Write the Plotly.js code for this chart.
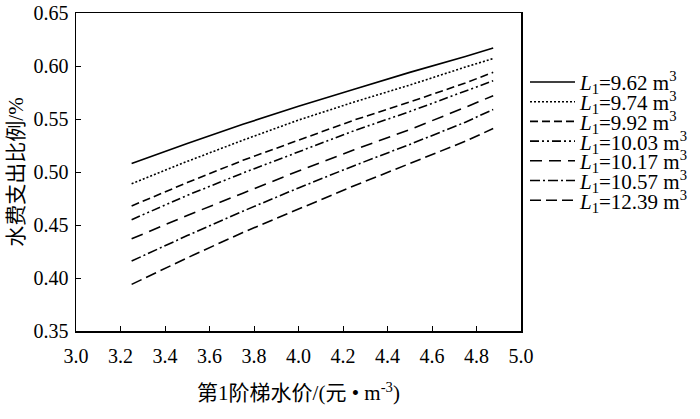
<!DOCTYPE html>
<html>
<head>
<meta charset="utf-8">
<script src="https://cdn.plot.ly/plotly-3.0.1.min.js"></script>
<style>html,body{margin:0;padding:0;background:#fff;}#chart{width:700px;height:419px;}</style>
</head>
<body>
<div id="chart"></div>
<script>
// Price of 1st-tier water (元/m³)
const price = [3.25, 3.5, 3.75, 4.0, 4.25, 4.5, 4.75, 4.875];
// Legend labels (L1 values, m³)
const seriesNames = ["9.62", "9.74", "9.92", "10.03", "10.17", "10.57", "12.39"];
// Water expenditure share (%) for each L1
const s962  = [0.508, 0.527, 0.545, 0.562, 0.578, 0.594, 0.609, 0.617];
const s974  = [0.489, 0.510, 0.530, 0.549, 0.566, 0.582, 0.599, 0.607];
const s992  = [0.468, 0.490, 0.511, 0.530, 0.549, 0.566, 0.584, 0.594];
const s1003 = [0.455, 0.478, 0.499, 0.519, 0.539, 0.557, 0.576, 0.586];
const s1017 = [0.437, 0.459, 0.480, 0.501, 0.521, 0.540, 0.561, 0.572];
const s1057 = [0.416, 0.440, 0.463, 0.485, 0.506, 0.526, 0.547, 0.559];
const s1239 = [0.394, 0.419, 0.443, 0.465, 0.487, 0.508, 0.529, 0.541];
const seriesValues = [s962, s974, s992, s1003, s1017, s1057, s1239];
const xTickVals = [3.0, 3.2, 3.4, 3.6, 3.8, 4.0, 4.2, 4.4, 4.6, 4.8, 5.0];
const yTickVals = [0.35, 0.40, 0.45, 0.50, 0.55, 0.60, 0.65];

const dashes = ["solid", "2px,2px", "8px,4px", "9px,3px,2px,3px,2px,3px", "12px,7px", "10px,3px,2px,3px", "11px,5px"];
const serif = "Liberation Serif, Times New Roman, Noto Sans CJK SC, serif";

const W = 700, H = 419;
const M = {l: 76, r: 179, t: 13, b: 88};
const plotW = W - M.l - M.r, plotH = H - M.t - M.b;

const traces = seriesValues.map((vals, i) => ({
  x: price,
  y: vals,
  type: "scatter",
  mode: "lines",
  name: "L1=" + seriesNames[i] + " m3",
  showlegend: false,
  line: {color: "#000", width: 1.6, dash: dashes[i]}
}));

// Hand-placed legend (tight row spacing as in the reference)
const legendTop = 82, legendStep = 19.7;
const px2x = px => (px - M.l) / plotW;
const py2y = py => (H - M.b - py) / plotH;
const shapes = [], annotations = [];
seriesNames.forEach((nm, i) => {
  const py = legendTop + i * legendStep;
  shapes.push({type: "line", xref: "paper", yref: "paper",
    x0: px2x(530), x1: px2x(575), y0: py2y(py), y1: py2y(py),
    line: {color: "#000", width: 1.6, dash: dashes[i]}});
  annotations.push({xref: "paper", yref: "paper", x: px2x(577), y: py2y(py + 1),
    xanchor: "left", yanchor: "middle", showarrow: false,
    text: "<i>L</i><sub>1</sub>=" + nm + " m<sup>3</sup>",
    font: {family: serif, size: 21, color: "#000"}});
});

const layout = {
  width: W, height: H,
  margin: M,
  paper_bgcolor: "#fff", plot_bgcolor: "#fff",
  font: {family: serif, color: "#000", size: 20},
  showlegend: false,
  shapes: shapes,
  annotations: annotations,
  xaxis: {
    range: [3.0, 5.0], tickvals: xTickVals, ticktext: xTickVals.map(v => v.toFixed(1)),
    ticks: "inside", ticklen: 5, tickcolor: "#000", tickwidth: 1,
    showline: true, linecolor: "#000", linewidth: 1.5, mirror: true,
    showgrid: false, zeroline: false,
    tickfont: {family: serif, size: 20, color: "#000"},
    ticklabelstandoff: 6,
    title: {text: "第1阶梯水价/(元 • m<sup>-3</sup>)", font: {family: serif, size: 21, color: "#000"}, standoff: 20}
  },
  yaxis: {
    range: [0.35, 0.65], tickvals: yTickVals, ticktext: yTickVals.map(v => v.toFixed(2)),
    ticks: "inside", ticklen: 5, tickcolor: "#000", tickwidth: 1,
    showline: true, linecolor: "#000", linewidth: 1.5, mirror: true,
    showgrid: false, zeroline: false,
    tickfont: {family: serif, size: 20, color: "#000"},
    ticklabelstandoff: 2,
    title: {text: "水费支出比例/%", font: {family: serif, size: 21, color: "#000"}, standoff: 4}
  }
};

Plotly.newPlot("chart", traces, layout, {displayModeBar: false, staticPlot: true});
</script>
</body>
</html>
